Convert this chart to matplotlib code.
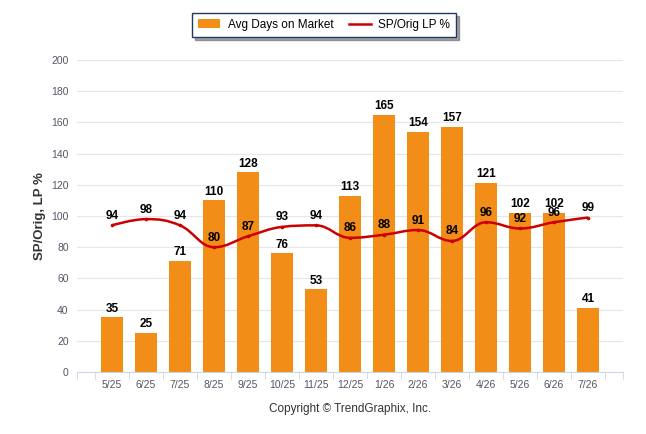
import matplotlib
matplotlib.use("Agg")
import matplotlib.pyplot as plt
from matplotlib.path import Path
from matplotlib.patches import PathPatch
from matplotlib.lines import Line2D
from matplotlib.patches import Patch

plt.rcParams['font.family'] = ['Liberation Sans', 'DejaVu Sans']

months = ["5/25", "6/25", "7/25", "8/25", "9/25", "10/25", "11/25", "12/25",
          "1/26", "2/26", "3/26", "4/26", "5/26", "6/26", "7/26"]
days_on_market = [35, 25, 71, 110, 128, 76, 53, 113, 165, 154, 157, 121, 102, 102, 41]
sp_orig_lp = [94, 98, 94, 80, 87, 93, 94, 86, 88, 91, 84, 96, 92, 96, 99]
y_ticks = [0, 20, 40, 60, 80, 100, 120, 140, 160, 180, 200]

bar_color = "#F28D17"
line_color = "#CC0000"


def spline_path(xs, ys, smoothing=1.5):
    # highcharts-style spline: cubic bezier segments through each point
    denom = smoothing + 1
    n = len(xs)
    conts = []
    for i in range(n):
        if i == 0 or i == n - 1:
            conts.append(None)
            continue
        lx, ly = xs[i - 1], ys[i - 1]
        px, py = xs[i], ys[i]
        nx, ny = xs[i + 1], ys[i + 1]
        lcx = (smoothing * px + lx) / denom
        lcy = (smoothing * py + ly) / denom
        rcx = (smoothing * px + nx) / denom
        rcy = (smoothing * py + ny) / denom
        corr = (rcy - lcy) * (rcx - px) / (rcx - lcx) + py - rcy
        lcy += corr
        rcy += corr
        if lcy > ly and lcy > py:
            lcy = max(ly, py); rcy = 2 * py - lcy
        elif lcy < ly and lcy < py:
            lcy = min(ly, py); rcy = 2 * py - lcy
        if rcy > ny and rcy > py:
            rcy = max(ny, py); lcy = 2 * py - rcy
        elif rcy < ny and rcy < py:
            rcy = min(ny, py); lcy = 2 * py - rcy
        conts.append((lcx, lcy, rcx, rcy))
    verts = [(xs[0], ys[0])]
    codes = [Path.MOVETO]
    for i in range(1, n):
        prev = conts[i - 1]
        cur = conts[i]
        c1 = (prev[2], prev[3]) if prev else (xs[i - 1], ys[i - 1])
        c2 = (cur[0], cur[1]) if cur else (xs[i], ys[i])
        verts += [c1, c2, (xs[i], ys[i])]
        codes += [Path.CURVE4] * 3
    return Path(verts, codes)


fig = plt.figure(figsize=(6.46, 4.34), dpi=100)
ax = fig.add_axes([77 / 646, 1 - 372 / 434, 546 / 646, 312 / 434])

x = list(range(len(months)))
ax.bar(x, days_on_market, width=0.62, color=bar_color, zorder=2)

ax.add_patch(PathPatch(spline_path(x, sp_orig_lp), facecolor="none",
                       edgecolor=line_color, lw=1.8, zorder=3))
ax.plot(x, sp_orig_lp, "o", ms=1.6, color=line_color, zorder=3)

for xi, v in zip(x, days_on_market):
    ax.annotate(str(v), (xi, v), xytext=(0, 2), textcoords="offset points",
                ha="center", va="bottom", fontsize=8.5, fontweight="bold",
                color="black", zorder=4)
for xi, v in zip(x, sp_orig_lp):
    ax.annotate(str(v), (xi, v), xytext=(0, 2.5), textcoords="offset points",
                ha="center", va="bottom", fontsize=8.5, fontweight="bold",
                color="black", zorder=4)

ax.set_xlim(-1.03, len(months) - 1 + 1.03)
ax.set_ylim(0, 200)
ax.set_yticks(y_ticks)
ax.set_xticks(x)
ax.set_xticklabels(months)
ax.set_xticks([i - 0.5 for i in range(len(months) + 1)] + [-1.03, len(months) + 0.03], minor=True)
ax.tick_params(axis="x", which="major", length=0, labelsize=7.5, labelcolor="#555566", pad=6)
ax.tick_params(axis="x", which="minor", length=5, color="#ccd6eb")
ax.tick_params(axis="y", length=0, labelsize=7.5, labelcolor="#555566", pad=6)
ax.grid(axis="y", color="#e6e6e6", lw=0.8, zorder=0)
ax.set_axisbelow(True)
for side in ["top", "right", "left"]:
    ax.spines[side].set_visible(False)
ax.spines["bottom"].set_color("#ccd6eb")
ax.set_ylabel("SP/Orig, LP %", fontsize=9.5, fontweight="bold", color="#333333", labelpad=4)

handles = [Patch(facecolor=bar_color, edgecolor="none"),
           Line2D([0], [0], color=line_color, lw=1.8)]
leg = fig.legend(handles, ["Avg Days on Market", "SP/Orig LP %"],
                 loc="center", bbox_to_anchor=(324 / 646, 1 - 25 / 434), ncol=2,
                 fontsize=8.5, frameon=True, fancybox=False, shadow=True,
                 edgecolor="#1f3864", handlelength=1.9, handleheight=0.8,
                 handletextpad=0.6, columnspacing=1.3, borderpad=0.5)
leg.get_frame().set_linewidth(1.0)

fig.text(350 / 646, 1 - 409 / 434, "Copyright \u00a9 TrendGraphix, Inc.",
         ha="center", va="center", fontsize=8.5, color="#333333")

fig.savefig("out.png", dpi=100)
